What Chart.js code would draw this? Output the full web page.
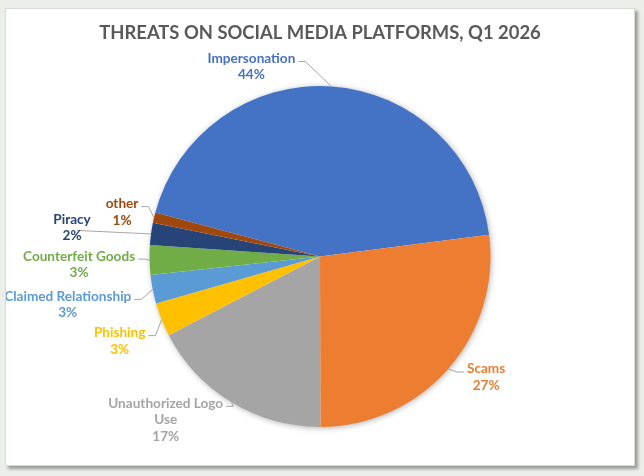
<!DOCTYPE html>
<html>
<head>
<meta charset="utf-8">
<script src="https://cdn.jsdelivr.net/npm/chart.js@4"></script>
<style>
  html, body { margin: 0; padding: 0; }
  body { width: 644px; height: 476px; background: #eceFe9; position: relative; overflow: hidden; }
  #card {
    position: absolute; left: 5px; top: 8px; width: 628px; height: 456px;
    background: #fff; border: 1px solid #d9d9d9;
    box-shadow: 3px 3px 3px rgba(0,0,0,0.35);
  }
  #myChart { display: block; }
</style>
</head>
<body>
<div id="card"><canvas id="myChart" width="628" height="456"></canvas></div>
<script>
// dados
const categorias = ['Impersonation', 'Scams', 'Unauthorized Logo Use', 'Phishing', 'Claimed Relationship', 'Counterfeit Goods', 'Piracy', 'other'];
const valores = [43.8, 27.0, 17.4, 3.2, 2.7, 2.8, 2.1, 1.0];
const cores = ['#4472C4', '#ED7D31', '#A5A5A5', '#FFC000', '#5B9BD5', '#70AD47', '#264478', '#9E480E'];

// quebra de linha dos rótulos
const quebras = { 'Unauthorized Logo Use': ['Unauthorized Logo', 'Use'] };

// deslocamento do rótulo (centro x, primeira linha y) a partir da borda da fatia
const offsets = [[-80, -28], [38, 0], [-66, 1], [-42, 13], [-85, 7], [-70.5, -4], [-79, -14.5], [-32, -14]];
// ponto de chegada da linha guia fora do padrão (relativo ao rótulo)
const ancoras = { 6: [5, 11] };

const FONT = 'bold 13.6px Lato';
const LINE_H = 16.5;

const total = valores.reduce((a, b) => a + b, 0);

// sombra atrás da pizza
const sombraPlugin = {
  id: 'sombra',
  beforeDatasetsDraw(chart) {
    const arc = chart.getDatasetMeta(0).data[0];
    if (!arc) return;
    const ctx = chart.ctx;
    ctx.save();
    ctx.shadowColor = 'rgba(0,0,0,0.35)';
    ctx.shadowBlur = 6;
    ctx.shadowOffsetX = 1;
    ctx.shadowOffsetY = 1;
    ctx.fillStyle = '#fff';
    ctx.beginPath();
    ctx.arc(arc.x, arc.y, arc.outerRadius - 0.5, 0, Math.PI * 2);
    ctx.fill();
    ctx.restore();
  }
};

// rótulos externos com linha guia
const rotulosPlugin = {
  id: 'rotulos',
  afterDraw(chart) {
    const ctx = chart.ctx;
    const meta = chart.getDatasetMeta(0);
    ctx.save();
    ctx.font = FONT;
    ctx.textAlign = 'center';
    ctx.textBaseline = 'middle';
    meta.data.forEach((arc, i) => {
      const mid = (arc.startAngle + arc.endAngle) / 2;
      const ox = arc.x + Math.cos(mid) * arc.outerRadius;
      const oy = arc.y + Math.sin(mid) * arc.outerRadius;
      const cx = ox + offsets[i][0];
      const y0 = oy + offsets[i][1];
      const linhas = (quebras[categorias[i]] || [categorias[i]]).concat([Math.round(valores[i] / total * 100) + '%']);

      // linha guia
      ctx.strokeStyle = '#A6A6A6';
      ctx.lineWidth = 1;
      ctx.beginPath();
      ctx.moveTo(ox, oy);
      if (ancoras[i]) {
        ctx.lineTo(cx + ancoras[i][0], y0 + ancoras[i][1]);
      } else {
        const w = ctx.measureText(linhas[0]).width;
        const esq = cx < ox;
        const ex = esq ? cx + w / 2 + 3 : cx - w / 2 - 3;
        const ey = y0 + 3;
        ctx.lineTo(esq ? ex + 7 : ex - 7, ey);
        ctx.lineTo(ex, ey);
      }
      ctx.stroke();

      ctx.fillStyle = cores[i];
      linhas.forEach((t, k) => ctx.fillText(t, cx, y0 + k * LINE_H));
    });
    ctx.restore();
  }
};

const ctx = document.getElementById('myChart').getContext('2d');
const chart = new Chart(ctx, {
  type: 'pie',
  data: {
    labels: categorias,
    datasets: [{
      data: valores,
      backgroundColor: cores,
      borderWidth: 0,
    }]
  },
  options: {
    responsive: false,
    animation: false,
    rotation: -75,
    layout: { padding: { top: 0, bottom: 38, left: 0, right: 0 } },
    plugins: {
      legend: { display: false },
      tooltip: { enabled: false },
      title: {
        display: true,
        text: 'THREATS ON SOCIAL MEDIA PLATFORMS, Q1 2026',
        color: '#595959',
        font: { family: 'Lato', size: 18.4, weight: 'bold' },
        padding: { top: 13, bottom: 42 }
      }
    }
  },
  plugins: [sombraPlugin, rotulosPlugin]
});
</script>
</body>
</html>
